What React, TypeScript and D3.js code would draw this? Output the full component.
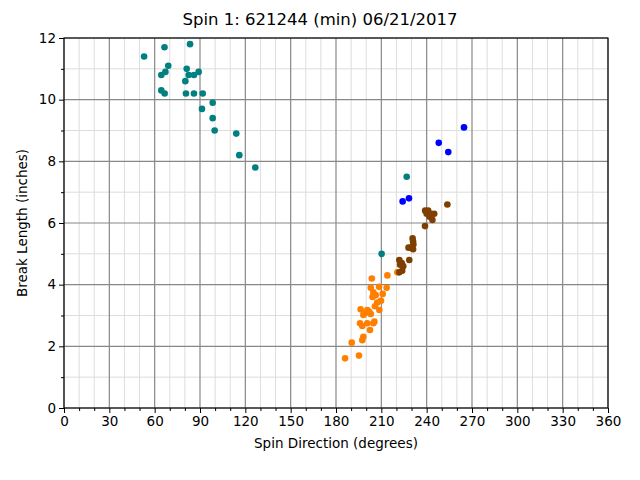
import { useEffect, useRef } from 'react'
import * as d3 from 'd3'

const W = 640
const H = 480
const M = { left: 64, right: 608, top: 38, bottom: 408 }

const TITLE = 'Spin 1: 621244 (min) 06/21/2017'
const X_LABEL = 'Spin Direction (degrees)'
const Y_LABEL = 'Break Length (inches)'
const X_TICKS = [0, 30, 60, 90, 120, 150, 180, 210, 240, 270, 300, 330, 360]
const Y_TICKS = [0, 2, 4, 6, 8, 10, 12]

// teal pitches
const tealDir = [53, 66.5, 83.4, 69, 64.4, 67.1, 81.2, 82.5, 86, 89.1, 80.3, 64.4, 66.6, 80.7, 86, 91.8, 98.4, 91.3, 98.4, 99.7, 114, 116, 126.6, 226.8, 210.2]
const tealBreak = [11.4, 11.7, 11.8, 11.1, 10.8, 10.9, 11.0, 10.8, 10.8, 10.9, 10.6, 10.3, 10.2, 10.2, 10.2, 10.2, 9.9, 9.7, 9.4, 9.0, 8.9, 8.2, 7.8, 7.5, 5.0]

// blue pitches
const blueDir = [264.7, 248, 254.3, 224.1, 228.3]
const blueBreak = [9.1, 8.6, 8.3, 6.7, 6.8]

// brown pitches
const brownDir = [253.7, 239, 241, 243, 245, 240, 242, 243.8, 238.9, 230.7, 231, 231.2, 228, 229.5, 231, 228.5, 221.9, 223.5, 222.4, 224.5, 221.9, 223.8]
const brownBreak = [6.6, 6.4, 6.4, 6.3, 6.3, 6.3, 6.2, 6.1, 5.9, 5.5, 5.4, 5.3, 5.2, 5.2, 5.15, 4.8, 4.8, 4.7, 4.65, 4.6, 4.4, 4.45]

// orange pitches
const orangeDir = [220.6, 203.7, 214, 203, 208.5, 213.5, 204.7, 206.3, 210.9, 204.2, 209.8, 207.3, 205.8, 208.7, 196.3, 200.7, 202, 199.2, 198.1, 203, 205.4, 204.7, 195.9, 197.4, 200.7, 202.5, 198.1, 197.4, 190.4, 195.2, 186]
const orangeBreak = [4.4, 4.2, 4.3, 3.9, 3.93, 3.9, 3.75, 3.66, 3.7, 3.6, 3.48, 3.42, 3.3, 3.18, 3.2, 3.18, 3.12, 3.07, 3.02, 3.05, 2.8, 2.75, 2.75, 2.66, 2.75, 2.53, 2.31, 2.2, 2.12, 1.7, 1.61]

const SERIES = [
  { dir: tealDir, brk: tealBreak, color: '#008080' },
  { dir: orangeDir, brk: orangeBreak, color: '#ff7f00' },
  { dir: brownDir, brk: brownBreak, color: '#7f3f00' },
  { dir: blueDir, brk: blueBreak, color: '#0000ff' },
]

export default function App() {
  const ref = useRef<SVGSVGElement>(null)

  useEffect(() => {
    if (!ref.current) return
    const svg = d3.select(ref.current)
    svg.selectAll('*').remove()

    const x = d3.scaleLinear().domain([0, 360]).range([M.left, M.right])
    const y = d3.scaleLinear().domain([0, 12]).range([M.bottom, M.top])
    const font = 'DejaVu Sans, sans-serif'

    svg.append('rect').attr('width', W).attr('height', H).attr('fill', '#fff')

    const xMinor = d3.range(0, 361, 10)
    const yMinor = d3.range(0, 13, 1)

    // minor grid
    const grid = svg.append('g')
    grid.selectAll('.xm').data(xMinor.filter((v) => v % 30 !== 0)).join('line')
      .attr('x1', (d) => x(d)).attr('x2', (d) => x(d))
      .attr('y1', M.top).attr('y2', M.bottom)
      .attr('stroke', '#dddddd').attr('stroke-width', 1)
    grid.selectAll('.ym').data(yMinor.filter((v) => v % 2 !== 0)).join('line')
      .attr('x1', M.left).attr('x2', M.right)
      .attr('y1', (d) => y(d)).attr('y2', (d) => y(d))
      .attr('stroke', '#dddddd').attr('stroke-width', 1)
    // major grid
    grid.append('g').selectAll('line').data(X_TICKS).join('line')
      .attr('x1', (d) => x(d)).attr('x2', (d) => x(d))
      .attr('y1', M.top).attr('y2', M.bottom)
      .attr('stroke', '#888888').attr('stroke-width', 1.2)
    grid.append('g').selectAll('line').data(Y_TICKS).join('line')
      .attr('x1', M.left).attr('x2', M.right)
      .attr('y1', (d) => y(d)).attr('y2', (d) => y(d))
      .attr('stroke', '#888888').attr('stroke-width', 1.2)

    // points
    SERIES.forEach((s) => {
      svg.append('g').selectAll('circle').data(s.dir.map((d, i) => [d, s.brk[i]])).join('circle')
        .attr('cx', (d) => x(d[0])).attr('cy', (d) => y(d[1]))
        .attr('r', 3.3).attr('fill', s.color)
    })

    // axes
    const xAxis = svg.append('g').attr('transform', `translate(0,${M.bottom})`)
      .call(d3.axisBottom(x).tickValues(X_TICKS).tickFormat(d3.format('d')).tickSize(5).tickPadding(3))
    svg.append('g').attr('transform', `translate(0,${M.bottom})`)
      .call(d3.axisBottom(x).tickValues(xMinor.filter((v) => v % 30 !== 0)).tickFormat(() => '').tickSize(3))
      .call((g) => g.select('.domain').remove())
    const yAxis = svg.append('g').attr('transform', `translate(${M.left},0)`)
      .call(d3.axisLeft(y).tickValues(Y_TICKS).tickFormat(d3.format('d')).tickSize(5).tickPadding(3))
    svg.append('g').attr('transform', `translate(${M.left},0)`)
      .call(d3.axisLeft(y).tickValues(yMinor.filter((v) => v % 2 !== 0)).tickFormat(() => '').tickSize(3))
      .call((g) => g.select('.domain').remove())
    ;[xAxis, yAxis].forEach((g) => {
      g.select('.domain').remove()
      g.selectAll('text').attr('font-family', font).attr('font-size', 13.5).attr('fill', '#000')
    })

    // frame
    svg.append('rect').attr('x', M.left).attr('y', M.top)
      .attr('width', M.right - M.left).attr('height', M.bottom - M.top)
      .attr('fill', 'none').attr('stroke', '#000').attr('stroke-width', 1.1)

    svg.append('text').attr('x', W / 2).attr('y', 25)
      .attr('text-anchor', 'middle').attr('font-family', font).attr('font-size', 16.5)
      .text(TITLE)
    svg.append('text').attr('x', (M.left + M.right) / 2).attr('y', 448)
      .attr('text-anchor', 'middle').attr('font-family', font).attr('font-size', 13.5)
      .text(X_LABEL)
    svg.append('text').attr('transform', `translate(27,${(M.top + M.bottom) / 2}) rotate(-90)`)
      .attr('text-anchor', 'middle').attr('font-family', font).attr('font-size', 13.5)
      .text(Y_LABEL)
  }, [])

  return (
    <svg ref={ref} width={W} height={H}
      style={{ display: 'block', position: 'absolute', left: 0, top: 0 }} />
  )
}
